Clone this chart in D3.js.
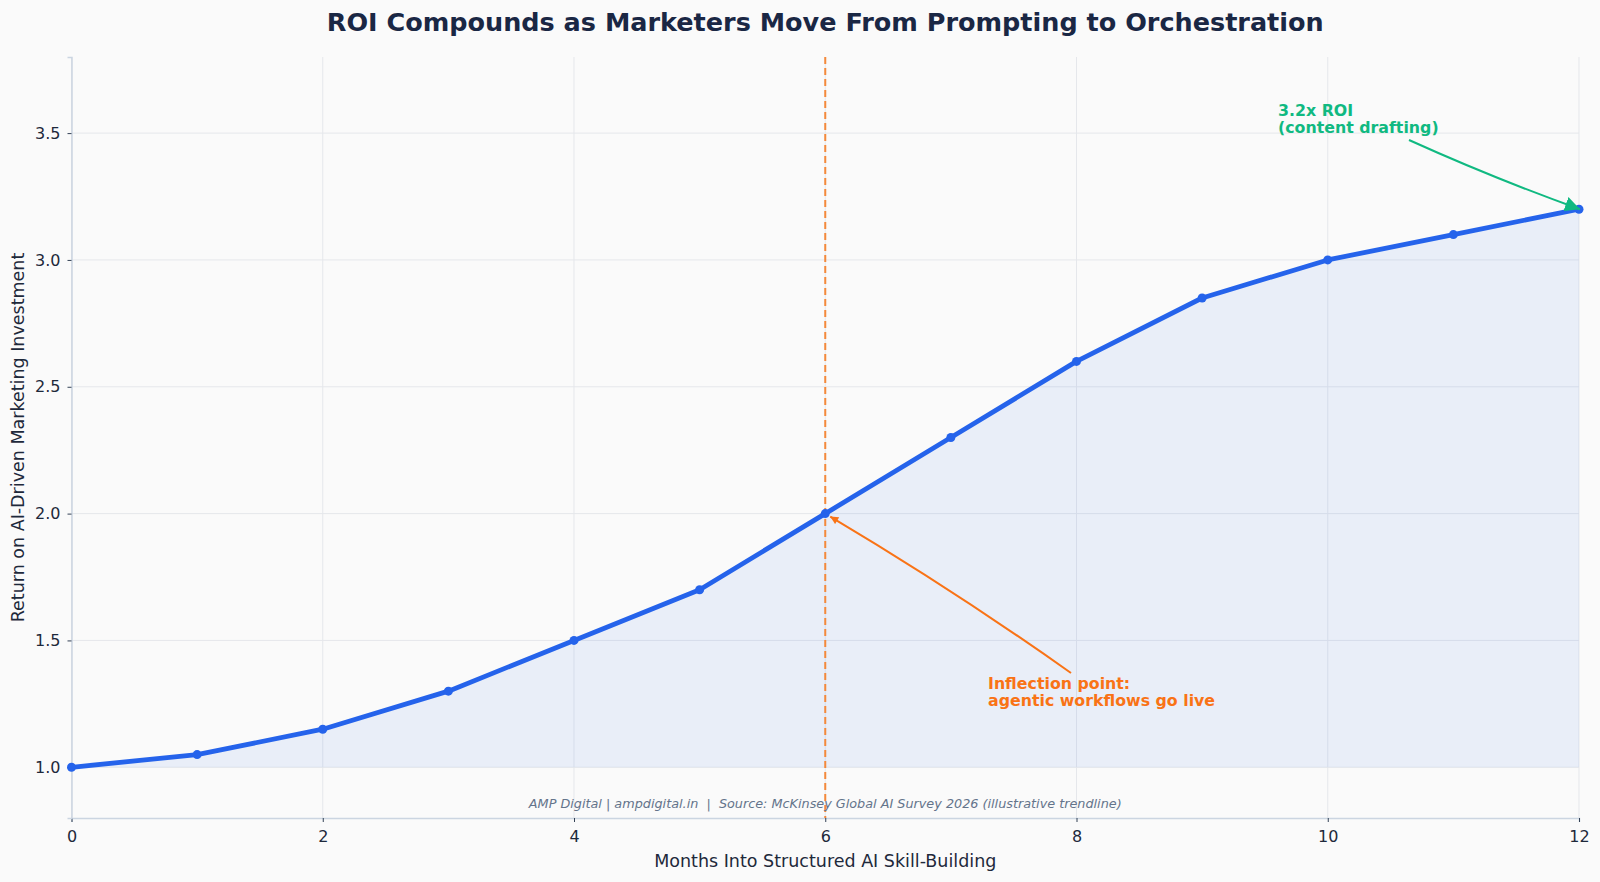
<!DOCTYPE html>
<html>
<head>
<meta charset="utf-8">
<script src="https://cdn.jsdelivr.net/npm/d3@7"></script>
<style>
  html, body { margin: 0; padding: 0; background: #fafafa; }
  svg { display: block; font-family: "DejaVu Sans", sans-serif; }
</style>
</head>
<body>
<div id="chart"></div>
<script>
// ── Data ────────────────────────────────────────────────────────────────
const months = [0, 1, 2, 3, 4, 5, 6, 7, 8, 9, 10, 11, 12];
const roi = [1.0, 1.05, 1.15, 1.3, 1.5, 1.7, 2.0, 2.3, 2.6, 2.85, 3.0, 3.1, 3.2];
const xTicks = [0, 2, 4, 6, 8, 10, 12];
const yTicks = [1.0, 1.5, 2.0, 2.5, 3.0, 3.5];

const data = months.map((m, i) => ({ month: m, value: roi[i] }));

// ── Dimensions ──────────────────────────────────────────────────────────
const W = 1600, H = 882;
const margin = { top: 57, right: 21, bottom: 64, left: 71.5 };
const width = W - margin.left - margin.right;
const height = H - margin.top - margin.bottom;

const svg = d3.select("#chart").append("svg")
  .attr("width", W).attr("height", H);

svg.append("rect").attr("width", W).attr("height", H).attr("fill", "#fafafa");

const g = svg.append("g").attr("transform", `translate(${margin.left},${margin.top})`);

// ── Scales ──────────────────────────────────────────────────────────────
const x = d3.scaleLinear().domain([0, 12]).range([0, width]);
const y = d3.scaleLinear().domain([0.8, 3.8]).range([height, 0]);

// ── Grid ────────────────────────────────────────────────────────────────
g.append("g").selectAll("line").data(xTicks).join("line")
  .attr("x1", d => x(d)).attr("x2", d => x(d))
  .attr("y1", 0).attr("y2", height)
  .attr("stroke", "#e5e7eb").attr("stroke-width", 1);

g.append("g").selectAll("line").data(yTicks).join("line")
  .attr("x1", 0).attr("x2", width)
  .attr("y1", d => y(d)).attr("y2", d => y(d))
  .attr("stroke", "#e5e7eb").attr("stroke-width", 1);

// ── Area Fill ───────────────────────────────────────────────────────────
const area = d3.area()
  .x(d => x(d.month))
  .y0(y(1.0))
  .y1(d => y(d.value));

g.append("path").datum(data)
  .attr("d", area)
  .attr("fill", "#2563eb")
  .attr("fill-opacity", 0.08);

// ── Axes ────────────────────────────────────────────────────────────────
const xAxis = g.append("g")
  .attr("transform", `translate(0,${height})`)
  .call(d3.axisBottom(x).tickValues(xTicks).tickSize(4).tickPadding(9).tickFormat(d3.format("d")));

const yAxis = g.append("g")
  .call(d3.axisLeft(y).tickValues(yTicks).tickSize(4).tickPadding(7).tickFormat(d3.format(".1f")));

[xAxis, yAxis].forEach(ax => {
  ax.select(".domain").attr("stroke", "#cbd5e1").attr("stroke-width", 1.5);
  ax.selectAll(".tick line").attr("stroke", "#334155");
  ax.selectAll(".tick text")
    .attr("fill", "#1e293b")
    .style("font-size", "16px")
    .style("font-family", "DejaVu Sans, sans-serif");
});

// ── Inflection Line ─────────────────────────────────────────────────────
g.append("line")
  .attr("x1", x(6)).attr("x2", x(6))
  .attr("y1", 0).attr("y2", height)
  .attr("stroke", "#f4893b")
  .attr("stroke-width", 2)
  .attr("stroke-dasharray", "7,4");

// ── Line + Markers ──────────────────────────────────────────────────────
const line = d3.line().x(d => x(d.month)).y(d => y(d.value));

g.append("path").datum(data)
  .attr("d", line)
  .attr("fill", "none")
  .attr("stroke", "#2563eb")
  .attr("stroke-width", 4.8)
  .attr("stroke-linejoin", "round");

g.selectAll(".dot").data(data).join("circle")
  .attr("class", "dot")
  .attr("cx", d => x(d.month))
  .attr("cy", d => y(d.value))
  .attr("r", 4.5)
  .attr("fill", "#2563eb");

// ── Annotations ─────────────────────────────────────────────────────────
const defs = svg.append("defs");
function marker(id, color, w, h) {
  defs.append("marker")
    .attr("id", id)
    .attr("viewBox", "0 0 10 10")
    .attr("refX", 10).attr("refY", 5)
    .attr("markerUnits", "userSpaceOnUse")
    .attr("markerWidth", w).attr("markerHeight", h)
    .attr("orient", "auto")
    .append("path")
    .attr("d", "M0,0 L10,5 L0,10 z")
    .attr("fill", color);
}
marker("arrOrange", "#f97316", 10, 8);
marker("arrGreen", "#10b981", 15, 15);

function curved(x1, y1, x2, y2, rad) {
  const mx = (x1 + x2) / 2, my = (y1 + y2) / 2;
  const dx = x2 - x1, dy = y2 - y1;
  const cx = mx + rad * dy, cy = my - rad * dx;
  return `M${x1},${y1} Q${cx},${cy} ${x2},${y2}`;
}

// inflection
const ix = x(6) + margin.left, iy = y(2.0) + margin.top;
svg.append("path")
  .attr("d", curved(1071, 673, ix + 5, iy + 3, -0.02))
  .attr("fill", "none")
  .attr("stroke", "#f97316")
  .attr("stroke-width", 2)
  .attr("marker-end", "url(#arrOrange)");

const inflText = svg.append("text")
  .attr("x", 988).attr("y", 689)
  .attr("fill", "#f97316")
  .style("font-size", "15.8px")
  .style("font-weight", "700");
["Inflection point:", "agentic workflows go live"].forEach((t, i) => {
  inflText.append("tspan").attr("x", 988).attr("dy", i === 0 ? 0 : 16.5).text(t);
});

// peak
const px = x(12) + margin.left, py = y(3.2) + margin.top;
svg.append("path")
  .attr("d", curved(1409, 140, px + 1, py, -0.02))
  .attr("fill", "none")
  .attr("stroke", "#10b981")
  .attr("stroke-width", 2)
  .attr("marker-end", "url(#arrGreen)");

const peakText = svg.append("text")
  .attr("x", 1278).attr("y", 115.5)
  .attr("fill", "#10b981")
  .style("font-size", "15.8px")
  .style("font-weight", "700");
["3.2x ROI", "(content drafting)"].forEach((t, i) => {
  peakText.append("tspan").attr("x", 1278).attr("dy", i === 0 ? 0 : 17).text(t);
});

// ── Labels ──────────────────────────────────────────────────────────────
svg.append("text")
  .attr("x", margin.left + width / 2).attr("y", 31)
  .attr("text-anchor", "middle")
  .attr("fill", "#1a2744")
  .style("font-size", "25.5px")
  .style("font-weight", "700")
  .text("ROI Compounds as Marketers Move From Prompting to Orchestration");

svg.append("text")
  .attr("x", margin.left + width / 2).attr("y", 867)
  .attr("text-anchor", "middle")
  .attr("fill", "#1e293b")
  .style("font-size", "17.5px")
  .text("Months Into Structured AI Skill-Building");

svg.append("text")
  .attr("transform", `translate(24,${margin.top + height / 2}) rotate(-90)`)
  .attr("text-anchor", "middle")
  .attr("fill", "#1e293b")
  .style("font-size", "17.5px")
  .text("Return on AI-Driven Marketing Investment");

svg.append("text")
  .attr("x", margin.left + width / 2).attr("y", 808)
  .attr("text-anchor", "middle")
  .attr("fill", "#64748b")
  .style("font-size", "12.8px")
  .style("font-style", "italic")
  .style("white-space", "pre")
  .text("AMP Digital | ampdigital.in  |  Source: McKinsey Global AI Survey 2026 (illustrative trendline)");
</script>
</body>
</html>
